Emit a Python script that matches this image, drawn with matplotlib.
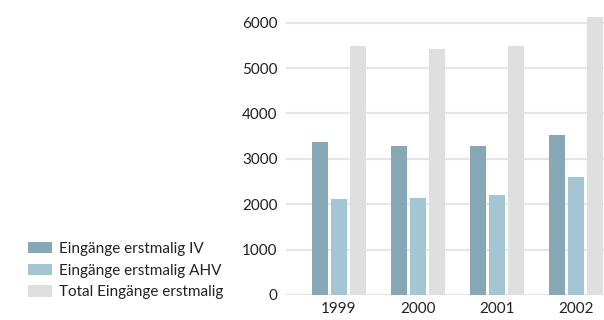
import numpy as np
import matplotlib.pyplot as plt
from matplotlib.patches import Patch

plt.rcParams['font.family'] = ['Lato', 'DejaVu Sans']

years = ["1999", "2000", "2001", "2002"]
iv = [3375, 3285, 3285, 3530]
ahv = [2120, 2140, 2205, 2605]
total = [5495, 5425, 5495, 6135]

labels = ["Eingänge erstmalig IV", "Eingänge erstmalig AHV", "Total Eingänge erstmalig"]
colors = ["#86a8b6", "#a3c5d4", "#dfdfdf"]

fig = plt.figure(figsize=(6.04, 3.2), dpi=100)
ax = fig.add_axes([286 / 604, 25 / 320, 318 / 604, 295 / 320])

x = np.arange(len(years))
w = 0.2
step = 0.24
for i, (vals, c) in enumerate(zip([iv, ahv, total], colors)):
    ax.bar(x + (i - 1) * step, vals, width=w, color=c, zorder=2)

ax.set_xlim(-0.67, 3.35)
ax.set_ylim(0, 6500)
ax.set_yticks(np.arange(0, 6001, 1000))
ax.set_xticks(x)
ax.set_xticklabels(years)
ax.yaxis.grid(True, color="#e6e6e6", linewidth=1.6, zorder=0)
ax.set_axisbelow(True)
for s in ax.spines.values():
    s.set_visible(False)
ax.tick_params(length=0, labelsize=11, colors="#222222")
ax.tick_params(axis="y", pad=6)
ax.tick_params(axis="x", pad=5)

handles = [Patch(facecolor=c, edgecolor="none") for c in colors]
fig.legend(handles, labels, loc="upper left", bbox_to_anchor=(28 / 604, 1 - 242 / 320),
           frameon=False, fontsize=11, handlelength=1.6, handleheight=0.75,
           handletextpad=0.4, labelspacing=0.5, borderpad=0, borderaxespad=0,
           labelcolor="#222222")

fig.savefig("out.png", dpi=100)
